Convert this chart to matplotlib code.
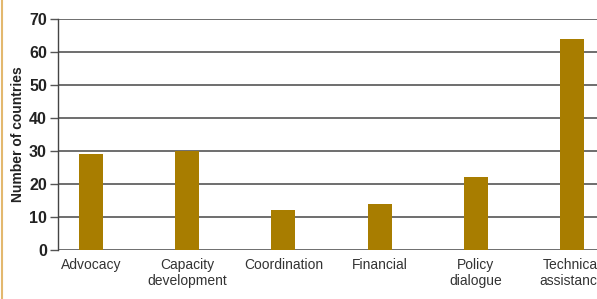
import matplotlib
matplotlib.use("Agg")
import matplotlib.pyplot as plt
import numpy as np

categories = ["Advocacy", "Capacity\ndevelopment", "Coordination", "Financial",
              "Policy\ndialogue", "Technical\nassistance"]
countries = [29, 30, 12, 14, 22, 64]
yticks = [0, 10, 20, 30, 40, 50, 60, 70]

bar_color = "#a87d00"
grid_color = "#555555"
fams = ["Liberation Sans Narrow", "Liberation Sans", "DejaVu Sans"]
plt.rcParams["font.family"] = fams

fig = plt.figure(figsize=(5.97, 2.99), dpi=100)
ax = fig.add_axes([58 / 597, 49 / 299, 1 - 58 / 597, 231 / 299])

x = np.arange(len(categories))
ax.bar(x, countries, width=0.25, color=bar_color, zorder=3)

ax.set_ylim(0, 70)
ax.set_xlim(-0.343, 5.26)
ax.set_yticks(yticks)
ax.set_yticklabels([str(t) for t in yticks], fontsize=11.5, fontweight="bold",
                   color="#222222")
ax.set_xticks(x)
ax.set_xticklabels(categories, fontsize=10, color="#333333", linespacing=1.15)
ax.tick_params(axis="x", length=0, pad=6)
ax.tick_params(axis="y", length=6, width=1, color=grid_color, pad=2)

ax.yaxis.grid(True, color=grid_color, linewidth=1.2, zorder=0)
for s in ["top", "right", "bottom"]:
    ax.spines[s].set_visible(False)
ax.spines["left"].set_color("#444444")
ax.spines["left"].set_linewidth(1)

ax.set_ylabel("Number of countries", fontsize=10, fontweight="bold",
              color="#222222")
ax.yaxis.set_label_coords(-0.061, 0.5)

# tan frame line at the left edge
fig.add_artist(plt.Line2D([1.5 / 597, 1.5 / 597], [0, 1], transform=fig.transFigure,
                          color="#e3b86e", linewidth=1.5))

fig.savefig("out.png", dpi=100)
